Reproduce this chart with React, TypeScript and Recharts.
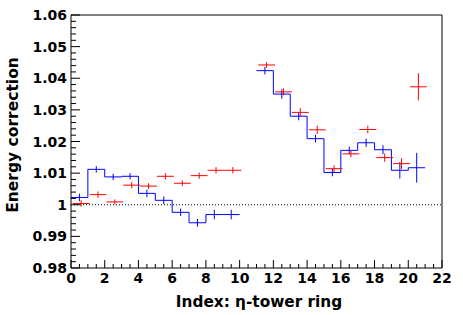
import React from 'react';
import {
  ComposedChart,
  Line,
  Scatter,
  XAxis,
  YAxis,
  ErrorBar,
  ReferenceLine,
  ReferenceArea,
  Customized,
} from 'recharts';

// ---- data ----
const blueEdgesA = [0, 1, 2, 3, 4, 5, 6, 7, 8, 9, 10];
const blueValsA = [1.0023, 1.0112, 1.0088, 1.009, 1.0036, 1.0014, 0.9976, 0.9943, 0.9969, 0.9969];
const blueErrA = [0.0012, 0.001, 0.001, 0.001, 0.0012, 0.0012, 0.0012, 0.0012, 0.0015, 0.0015];

const blueEdgesB = [11, 12, 13, 14, 15, 16, 17, 18, 19, 20, 21];
const blueValsB = [1.0424, 1.035, 1.028, 1.0209, 1.0102, 1.0172, 1.0196, 1.0174, 1.0109, 1.0117];
const blueErrB = [0.0012, 0.0015, 0.0013, 0.0012, 0.0012, 0.0012, 0.0013, 0.0014, 0.0026, 0.0047];

const redX = [0.6, 1.6, 2.6, 3.6, 4.6, 5.6, 6.6, 7.6, 8.6, 9.6, 11.6, 12.6, 13.6, 14.6, 15.6, 16.6, 17.6, 18.6, 19.6, 20.6];
const redVals = [1.0004, 1.0032, 1.0009, 1.0062, 1.0059, 1.009, 1.0068, 1.0092, 1.0109, 1.0109, 1.0442, 1.0357, 1.0292, 1.0237, 1.0114, 1.0161, 1.0238, 1.0149, 1.013, 1.0373];
const redErr = [0.001, 0.001, 0.0008, 0.001, 0.0009, 0.001, 0.0009, 0.001, 0.001, 0.001, 0.0009, 0.0011, 0.0013, 0.0013, 0.0011, 0.0011, 0.0012, 0.0013, 0.0017, 0.0043];
const redHalfWidth = 0.5;

const xMajorTicks = [0, 2, 4, 6, 8, 10, 12, 14, 16, 18, 20, 22];
const xTickLabels = ['0', '2', '4', '6', '8', '10', '12', '14', '16', '18', '20', '22'];
const yMajorTicks = [0.98, 0.99, 1.0, 1.01, 1.02, 1.03, 1.04, 1.05, 1.06];
const yTickLabels = ['0.98', '0.99', '1', '1.01', '1.02', '1.03', '1.04', '1.05', '1.06'];
const xMinorDiv = 4;
const yMinorDiv = 5;

const xTitle = 'Index: \u03b7-tower ring';
const yTitle = 'Energy correction';

// ---- derived tables ----
const stepData = (edges: number[], vals: number[]) =>
  edges.map((x, i) => ({ x, y: vals[Math.min(i, vals.length - 1)] }));
const blueStepA = stepData(blueEdgesA, blueValsA);
const blueStepB = stepData(blueEdgesB, blueValsB);
const bluePoints = [
  ...blueValsA.map((y, i) => ({ x: blueEdgesA[i] + 0.5, y, ey: blueErrA[i] })),
  ...blueValsB.map((y, i) => ({ x: blueEdgesB[i] + 0.5, y, ey: blueErrB[i] })),
];
const redPoints = redVals.map((y, i) => ({ x: redX[i], y, ey: redErr[i], ex: redHalfWidth }));

const subdivide = (majors: number[], n: number) => {
  const out: number[] = [];
  majors.forEach((m, i) => {
    if (i === majors.length - 1) {
      out.push(m);
      return;
    }
    const step = (majors[i + 1] - m) / n;
    for (let k = 0; k < n; k++) out.push(+(m + k * step).toFixed(6));
  });
  return out;
};
const xAllTicks = subdivide(xMajorTicks, xMinorDiv);
const yAllTicks = subdivide(yMajorTicks, yMinorDiv);

const findMajor = (arr: number[], v: number) => arr.findIndex((m) => Math.abs(m - v) < 1e-6);

const FONT = '"DejaVu Sans", sans-serif';

const XTick = (props: any) => {
  const { x, y, payload } = props;
  const idx = findMajor(xMajorTicks, payload.value);
  const major = idx >= 0;
  return (
    <g>
      <line x1={x} x2={x} y1={y} y2={y - (major ? 8 : 4)} stroke="#000" strokeWidth={1} />
      {major && (
        <text x={x} y={y + 15} textAnchor="middle" fontFamily={FONT} fontWeight="bold" fontSize={14} fill="#000">
          {xTickLabels[idx]}
        </text>
      )}
    </g>
  );
};

const YTick = (props: any) => {
  const { x, y, payload } = props;
  const idx = findMajor(yMajorTicks, payload.value);
  const major = idx >= 0;
  return (
    <g>
      <line x1={x} x2={x + (major ? 9 : 5)} y1={y} y2={y} stroke="#000" strokeWidth={1} />
      {major && (
        <text x={x - 4} y={y + 5} textAnchor="end" fontFamily={FONT} fontWeight="bold" fontSize={14} fill="#000">
          {yTickLabels[idx]}
        </text>
      )}
    </g>
  );
};

const Titles = () => (
  <g>
    <text x={259} y={306.5} textAnchor="middle" fontFamily={FONT} fontWeight="bold" fontSize={15.3} fill="#000">
      {xTitle}
    </text>
    <text
      x={17.5}
      y={135}
      transform="rotate(-90, 17.5, 135)"
      textAnchor="middle"
      fontFamily={FONT}
      fontWeight="bold"
      fontSize={15.5}
      fill="#000"
    >
      {yTitle}
    </text>
  </g>
);

const Empty = () => <g />;

export default function App() {
  return (
    <div style={{ position: 'absolute', left: 0, top: 0, background: '#fff' }}>
      <ComposedChart width={463} height={315} margin={{ top: 15, right: 21, left: 0, bottom: 0 }}>
        <XAxis
          type="number"
          dataKey="x"
          domain={[0, 22]}
          ticks={xAllTicks}
          interval={0}
          tick={XTick}
          tickLine={false}
          axisLine={false}
          tickSize={0}
          tickMargin={0}
          height={47}
          allowDataOverflow
        />
        <YAxis
          type="number"
          domain={[0.98, 1.06]}
          ticks={yAllTicks}
          interval={0}
          tick={YTick}
          tickLine={false}
          axisLine={false}
          tickSize={0}
          tickMargin={0}
          width={71}
          allowDataOverflow
        />
        <ReferenceLine y={1} stroke="#000" strokeDasharray="1 2" strokeWidth={1} />
        <Line
          data={blueStepA}
          dataKey="y"
          type="stepAfter"
          stroke="#0000ff"
          strokeWidth={1}
          dot={false}
          activeDot={false}
          isAnimationActive={false}
        />
        <Line
          data={blueStepB}
          dataKey="y"
          type="stepAfter"
          stroke="#0000ff"
          strokeWidth={1}
          dot={false}
          activeDot={false}
          isAnimationActive={false}
        />
        <Scatter data={bluePoints} dataKey="y" shape={Empty} isAnimationActive={false}>
          <ErrorBar dataKey="ey" direction="y" width={0} stroke="#0000ff" strokeWidth={1} />
        </Scatter>
        <Scatter data={redPoints} dataKey="y" shape={Empty} isAnimationActive={false}>
          <ErrorBar dataKey="ey" direction="y" width={0} stroke="#ff0000" strokeWidth={1} />
          <ErrorBar dataKey="ex" direction="x" width={0} stroke="#ff0000" strokeWidth={1} />
        </Scatter>
        <ReferenceArea
          x1={0}
          x2={22}
          y1={0.98}
          y2={1.06}
          fill="none"
          fillOpacity={0}
          stroke="#000"
          strokeWidth={1}
          ifOverflow="visible"
        />
        <Customized component={Titles} />
      </ComposedChart>
    </div>
  );
}
